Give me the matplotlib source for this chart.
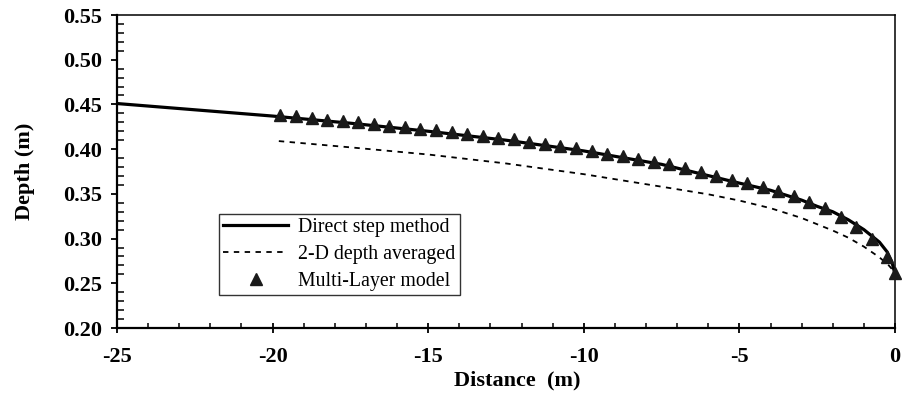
import matplotlib
matplotlib.use("Agg")
import matplotlib.pyplot as plt
from matplotlib.ticker import MultipleLocator, FormatStrFormatter


# Direct step method (solid)
STEP_X = [-25, -22.5, -20, -17.5, -15, -12.5, -10, -7.5, -5, -4, -3, -2.5, -2,
          -1.5, -1, -0.5, -0.25, -0.1, 0]
STEP_DEPTH = [0.451, 0.444, 0.437, 0.429, 0.420, 0.410, 0.398, 0.383, 0.362,
              0.354, 0.343, 0.336, 0.330, 0.321, 0.310, 0.296, 0.285, 0.274, 0.260]

# 2-D depth averaged (dotted)
AVG_X = [-19.8, -17.5, -15, -12.5, -10, -7.5, -6, -5, -4, -3, -2, -1.5, -1,
         -0.5, -0.2, 0]
AVG_DEPTH = [0.409, 0.402, 0.394, 0.384, 0.372, 0.358, 0.3495, 0.3425, 0.334,
             0.323, 0.309, 0.301, 0.291, 0.279, 0.270, 0.262]

# Multi-layer model (triangles)
ML_X = [-19.75, -19.25, -18.75, -18.25, -17.75, -17.25, -16.75, -16.25,
        -15.75, -15.25, -14.75, -14.25, -13.75, -13.25, -12.75, -12.25,
        -11.75, -11.25, -10.75, -10.25, -9.75, -9.25, -8.75, -8.25, -7.75,
        -7.25, -6.75, -6.25, -5.75, -5.25, -4.75, -4.25, -3.75, -3.25, -2.75,
        -2.25, -1.75, -1.25, -0.75, -0.25, 0]
ML_DEPTH = [0.438, 0.437, 0.435, 0.433, 0.432, 0.430, 0.428, 0.426, 0.425,
            0.423, 0.421, 0.419, 0.417, 0.415, 0.413, 0.411, 0.408, 0.406,
            0.404, 0.401, 0.398, 0.395, 0.392, 0.389, 0.386, 0.383, 0.379,
            0.374, 0.370, 0.366, 0.362, 0.358, 0.353, 0.348, 0.341, 0.334,
            0.324, 0.313, 0.299, 0.279, 0.261]

plt.rcParams["font.family"] = ["Liberation Serif", "DejaVu Serif"]
plt.rcParams["axes.unicode_minus"] = False

fig = plt.figure(figsize=(9.02, 4.0), dpi=100)
ax = fig.add_axes([117 / 902, 72 / 400, 778 / 902, 313 / 400])

ax.plot(STEP_X, STEP_DEPTH, color="black", linewidth=2.3,
        label="Direct step method", zorder=3)
ax.plot(AVG_X, AVG_DEPTH, color="black", linewidth=1.3,
        linestyle=(0, (3, 3)), label="2-D depth averaged", zorder=2)
ax.plot(ML_X, ML_DEPTH, linestyle="none", marker="^", markersize=8,
        color="#1a1a1a", label="Multi-Layer model", zorder=4, clip_on=False)

ax.set_xlim(-25, 0)
ax.set_ylim(0.20, 0.55)
ax.xaxis.set_major_locator(MultipleLocator(5))
ax.xaxis.set_minor_locator(MultipleLocator(1))
ax.yaxis.set_major_locator(MultipleLocator(0.05))
ax.yaxis.set_minor_locator(MultipleLocator(0.01))
ax.yaxis.set_major_formatter(FormatStrFormatter("%.2f"))

ax.tick_params(axis="x", which="major", direction="inout", length=7.5,
               width=1.3, pad=10)
ax.tick_params(axis="x", which="minor", direction="in", length=3.8, width=1.1)
ax.tick_params(axis="y", which="major", direction="out", length=4,
               width=1.3, pad=7)
ax.tick_params(axis="y", which="minor", direction="in", length=4.8, width=1.1)
for label in ax.get_xticklabels() + ax.get_yticklabels():
    label.set_fontweight("bold")
    label.set_fontsize(16)

for side in ["left", "bottom"]:
    ax.spines[side].set_linewidth(1.6)
for side in ["top", "right"]:
    ax.spines[side].set_linewidth(1.1)

ax.set_xlabel("Distance  (m)", fontsize=16, fontweight="bold")
ax.xaxis.set_label_coords(0.515, -0.135)
ax.set_ylabel("Depth (m)", fontsize=16, fontweight="bold", labelpad=20)

legend = ax.legend(loc="lower left", bbox_to_anchor=(0.131, 0.105),
                   fontsize=14.3, frameon=True, fancybox=False,
                   edgecolor="black", handlelength=3.3, borderpad=0.2,
                   labelspacing=0.4, handletextpad=0.5, borderaxespad=0)
legend.get_frame().set_linewidth(1.0)

fig.savefig("out.png", dpi=100)
